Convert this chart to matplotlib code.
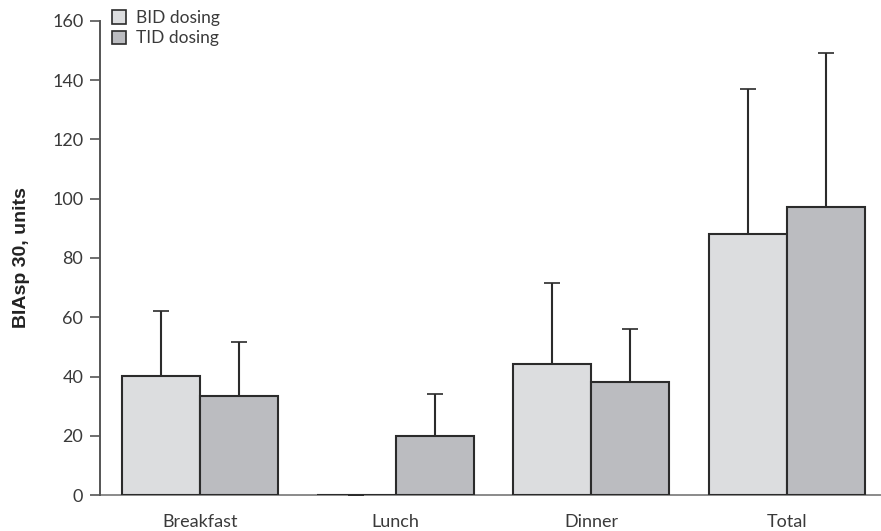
import matplotlib
matplotlib.use("Agg")
import matplotlib.pyplot as plt
import matplotlib.patches as mpatches
import numpy as np

meals = ["Breakfast", "Lunch", "Dinner", "Total"]
bid_mean = [40.3, 0.0, 44.3, 88.2]
bid_sd = [21.7, 0.0, 27.2, 48.8]
tid_mean = [33.4, 19.8, 38.3, 97.2]
tid_sd = [18.4, 14.3, 17.7, 52.1]
series_labels = ["BID dosing", "TID dosing"]
y_ticks = [0, 20, 40, 60, 80, 100, 120, 140, 160]

BID_COLOR = "#dcdddf"
TID_COLOR = "#bbbcc0"
EDGE = "#2b2b2b"
TEXT = "#3a3a3a"

plt.rcParams["font.family"] = ["Lato", "DejaVu Sans"]

fig = plt.figure(figsize=(8.81, 5.31), dpi=100)
ax = fig.add_axes([100 / 881, 1 - 495 / 531, 780 / 881, 474 / 531])

x = np.arange(len(meals))
w = 0.4
err_kw = dict(ecolor=EDGE, elinewidth=1.5, capsize=5.5, capthick=1.2)

# upper-only error bars, as in the publication style
ax.bar(x - w / 2, bid_mean, w, color=BID_COLOR, edgecolor=EDGE, linewidth=1.5,
       yerr=[np.zeros(len(bid_sd)), bid_sd], error_kw=err_kw, zorder=3)
ax.bar(x + w / 2, tid_mean, w, color=TID_COLOR, edgecolor=EDGE, linewidth=1.5,
       yerr=[np.zeros(len(tid_sd)), tid_sd], error_kw=err_kw, zorder=3)

ax.set_xlim(-0.511, 3.476)
ax.set_ylim(0, 160)
ax.set_yticks(y_ticks)
ax.set_xticks(x)
ax.set_xticklabels(meals)

for side in ("top", "right"):
    ax.spines[side].set_visible(False)
ax.spines["left"].set_color("#555555")
ax.spines["left"].set_linewidth(1.4)
ax.spines["bottom"].set_color("#8a8a8a")
ax.spines["bottom"].set_linewidth(1.4)
ax.spines["bottom"].set_zorder(2)

ax.tick_params(axis="y", length=7, width=1.2, color="#555555",
               labelsize=13, labelcolor=TEXT, pad=5)
ax.tick_params(axis="x", length=0, labelsize=13, labelcolor=TEXT, pad=14)

ax.set_ylabel("BIAsp 30, units", fontsize=14, fontweight="bold",
              family=["Liberation Sans", "DejaVu Sans"], color="#222222")
ax.yaxis.set_label_coords(-0.09, 0.5)

handles = [mpatches.Patch(facecolor=BID_COLOR, edgecolor=EDGE, linewidth=1.2),
           mpatches.Patch(facecolor=TID_COLOR, edgecolor=EDGE, linewidth=1.2)]
leg = fig.legend(handles, series_labels, loc="upper left",
                 bbox_to_anchor=(112 / 881, 1 - 10 / 531), frameon=False,
                 fontsize=12.5, handlelength=0.8, handleheight=0.8,
                 handletextpad=0.6, labelspacing=0.25, borderpad=0, borderaxespad=0)
for t in leg.get_texts():
    t.set_color(TEXT)

fig.savefig("out.png", dpi=100)
